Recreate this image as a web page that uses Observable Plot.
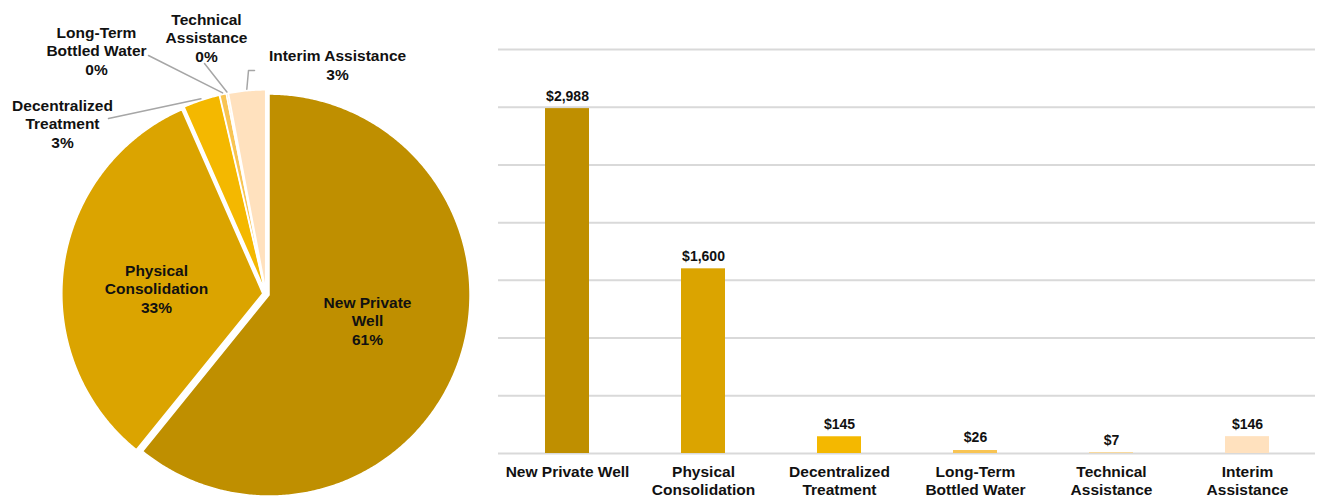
<!DOCTYPE html>
<html>
<head>
<meta charset="utf-8">
<script src="https://cdn.jsdelivr.net/npm/d3@7"></script>
<script src="https://cdn.jsdelivr.net/npm/@observablehq/plot@0.6"></script>
<style>
  html, body { margin: 0; padding: 0; background: #fff; }
  #wrap { position: relative; width: 1317px; height: 497px; overflow: hidden; font-family: "Liberation Sans", Arial, sans-serif; }
  #pie { position: absolute; left: 0; top: 0; }
  #bars { position: absolute; left: 490px; top: 0; }
  svg { font-family: "Liberation Sans", Arial, sans-serif; }
</style>
</head>
<body>
<div id="wrap"><div id="pie"></div><div id="bars"></div></div>
<script>
// ---- data ----
const categories = ["New Private Well", "Physical Consolidation", "Decentralized Treatment", "Long-Term Bottled Water", "Technical Assistance", "Interim Assistance"];
const costs = [2988, 1600, 145, 26, 7, 146];
const valueLabels = ["$2,988", "$1,600", "$145", "$26", "$7", "$146"];
const pctLabels = ["61%", "33%", "3%", "0%", "0%", "3%"];
const axisLabels = ["New Private Well", "Physical\nConsolidation", "Decentralized\nTreatment", "Long-Term\nBottled Water", "Technical\nAssistance", "Interim\nAssistance"];
const pieNames = ["New Private\nWell", "Physical\nConsolidation", "Decentralized\nTreatment", "Long-Term\nBottled Water", "Technical\nAssistance", "Interim Assistance"];
const yTicks = [0, 500, 1000, 1500, 2000, 2500, 3000, 3500];

// ---- style / layout ----
const colors = ["#BF8F00", "#DBA400", "#F4B800", "#F8C453", "#FBD48A", "#FFE1BE"];
const FONT = 15.5;
const pie = {cx: 265.5, cy: 293.5, r: 201, explode: 3.2};
const labelPos = [[367, 320], [156, 288], [62, 123], [96, 50], [206, 37], [337, 64]];
const leaderStart = [null, null, [[108, 118]], [[148, 55]], [[204, 63]], [[254, 70], [248, 70]]];

const rows = categories.map((c, i) => ({name: c, value: costs[i], label: valueLabels[i], axis: axisLabels[i], color: colors[i], pie: pieNames[i] + "\n" + pctLabels[i]}));

// ---- pie geometry from data ----
const total = d3.sum(costs);
let acc = 0;
const slices = rows.map((d, i) => {
  const a0 = acc / total * 2 * Math.PI;
  acc += d.value;
  const a1 = acc / total * 2 * Math.PI;
  const mid = (a0 + a1) / 2;
  const ox = pie.explode * Math.sin(mid), oy = -pie.explode * Math.cos(mid);
  const pts = [{x: pie.cx + ox, y: pie.cy + oy}];
  const n = Math.max(2, Math.ceil((a1 - a0) / (Math.PI / 360)));
  for (let k = 0; k <= n; k++) {
    const a = a0 + (a1 - a0) * k / n;
    pts.push({x: pie.cx + ox + pie.r * Math.sin(a), y: pie.cy + oy - pie.r * Math.cos(a)});
  }
  pts.push({x: pie.cx + ox, y: pie.cy + oy});
  return {...d, i, a0, a1, mid, ox, oy, pts};
});

const sliceMarks = slices.map(s => Plot.line(s.pts, {x: "x", y: "y", fill: s.color, stroke: "#fff", strokeWidth: 1.5, curve: "linear"}));

const pieLabels = slices.map(s => ({x: labelPos[s.i][0], y: labelPos[s.i][1], text: s.pie}));
const leaders = [];
slices.filter(s => leaderStart[s.i]).forEach(s => {
  leaderStart[s.i].forEach(p => leaders.push({id: s.name, x: p[0], y: p[1]}));
  leaders.push({id: s.name, x: pie.cx + s.ox + (pie.r + 1.5) * Math.sin(s.mid), y: pie.cy + s.oy - (pie.r + 1.5) * Math.cos(s.mid)});
});

const pieChart = Plot.plot({
  width: 490, height: 497,
  margin: 0,
  x: {domain: [0, 490], range: [0, 490], axis: null},
  y: {domain: [0, 497], range: [0, 497], axis: null},
  marks: [
    ...sliceMarks,
    Plot.line(leaders, {x: "x", y: "y", z: "id", stroke: "#A6A6A6", strokeWidth: 1.5}),
    Plot.text(pieLabels, {x: "x", y: "y", text: "text", fontSize: FONT, fontWeight: "bold", fill: "#111", lineHeight: 1.2, lineAnchor: "middle"})
  ]
});
document.getElementById("pie").appendChild(pieChart);

// ---- bar chart ----
const barChart = Plot.plot({
  width: 827, height: 497,
  marginLeft: 8, marginRight: 2, marginTop: 49, marginBottom: 44,
  x: {domain: categories, paddingInner: 0.68, paddingOuter: 0.34, label: null},
  y: {domain: [0, 3500], axis: null},
  marks: [
    Plot.ruleY(yTicks, {stroke: "#D9D9D9", strokeWidth: 2}),
    Plot.barY(rows, {x: "name", y: "value", fill: "color"}),
    Plot.text(rows, {x: "name", y: "value", text: "label", fontSize: 14, fontWeight: "bold", fill: "#111", dy: -8, lineAnchor: "bottom"}),
    Plot.axisX({tickSize: 0, tickPadding: 11, fontSize: FONT, fontWeight: "bold", fill: "#111", lineHeight: 1.16, tickFormat: c => axisLabels[categories.indexOf(c)], label: null})
  ],
  color: {type: "identity"}
});
document.getElementById("bars").appendChild(barChart);
</script>
</body>
</html>
